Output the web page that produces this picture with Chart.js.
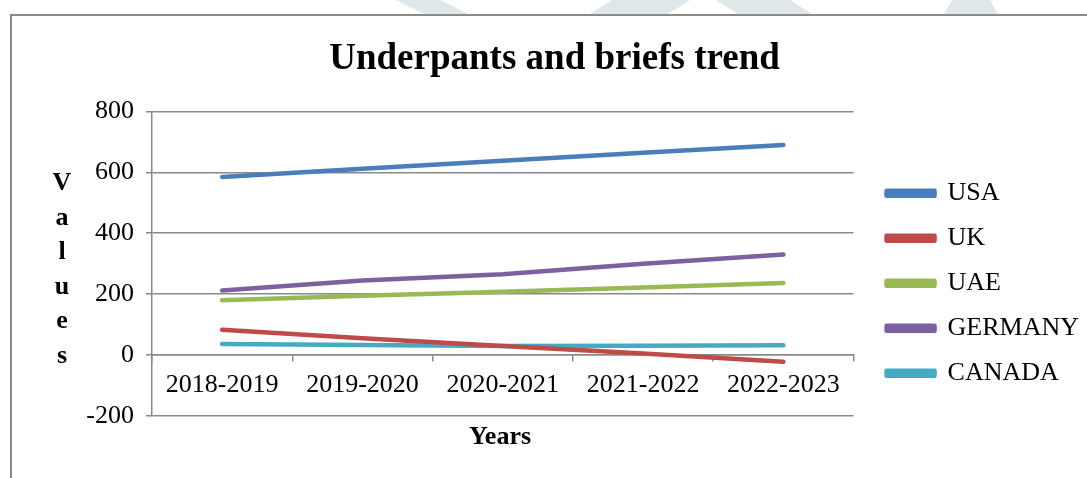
<!DOCTYPE html>
<html>
<head>
<meta charset="utf-8">
<script src="https://cdn.jsdelivr.net/npm/chart.js@4.4.1/dist/chart.umd.min.js"></script>
<style>
  body { margin: 0; background: #fff; }
  #wrap { position: relative; width: 1087px; height: 478px; overflow: hidden; }
  #bg { position: absolute; left: 0; top: 0; }
  #frame { position: absolute; left: 10px; top: 14px; width: 1200px; height: 600px; border: 2px solid #8a8a8a; }
  #myChart { position: absolute; left: 0; top: 0; }
  .axisTitle { position: absolute; font-family: "Liberation Serif", "Times New Roman", serif; font-weight: bold; font-size: 26px; color: #000; }
  #yTitle { left: 50px; top: 165px; width: 24px; text-align: center; line-height: 34.6px; }
  #xTitle { left: 420px; top: 421px; width: 160px; text-align: center; }
</style>
</head>
<body>
<div id="wrap">
  <svg id="bg" width="1087" height="16">
    <polygon points="396,0 440,0 468,14 424,14" fill="#dfe7ea" />
    <polygon points="612,0 690,0 668,14 590,14" fill="#dfe7ea" />
    <polygon points="716,0 790,0 812,14 738,14" fill="#dfe7ea" />
    <polygon points="952,0 990,0 998,14 944,14" fill="#dfe7ea" />
  </svg>
  <div id="frame"></div>
  <canvas id="myChart" width="1087" height="478"></canvas>
  <div id="yTitle" class="axisTitle">V<br>a<br>l<br>u<br>e<br>s</div>
  <div id="xTitle" class="axisTitle">Years</div>
</div>
<script>
// 데이터
const years = ["2018-2019", "2019-2020", "2020-2021", "2021-2022", "2022-2023"];
const usa = [585, 612, 638, 664, 690];
const uk = [83, 55, 30, 5, -22];
const uae = [180, 195, 208, 222, 237];
const germany = [212, 245, 265, 300, 330];
const canada = [36, 33, 30, 31, 32];
const yTicks = [-200, 0, 200, 400, 600, 800];

const serif = "'Liberation Serif', 'Times New Roman', serif";
const gridColor = "#898989";

function line(label, data, color) {
  return {
    label: label,
    data: data,
    borderColor: color,
    backgroundColor: color,
    borderWidth: 4.5,
    borderCapStyle: "round",
    borderJoinStyle: "round",
    pointRadius: 0,
    tension: 0,
    fill: false,
  };
}

// 범례를 조금 오른쪽으로 밀어줌
const legendShift = {
  id: "legendShift",
  afterLayout(chart) {
    chart.legend.left += 14;
    chart.legend.right += 14;
  },
};

const ctx = document.getElementById("myChart").getContext("2d");
const myChart = new Chart(ctx, {
  type: "line",
  data: {
    labels: years,
    datasets: [
      line("USA", usa, "#4a7ebb"),
      line("UK", uk, "#be4b48"),
      line("UAE", uae, "#98b954"),
      line("GERMANY", germany, "#7d60a0"),
      line("CANADA", canada, "#46aac5"),
    ],
  },
  plugins: [legendShift],
  options: {
    responsive: false,
    animation: false,
    layout: { padding: { left: 34, right: 12, top: 0, bottom: 62 } },
    plugins: {
      title: {
        display: true,
        text: "Underpants and briefs trend",
        color: "#000",
        font: { family: serif, size: 37, weight: "bold" },
        padding: { top: 37, bottom: 30 },
      },
      legend: {
        position: "right",
        fullSize: false,
        title: { display: true, text: "", font: { size: 11 }, padding: 13 },
        labels: {
          color: "#000",
          font: { family: serif, size: 26 },
          boxWidth: 48,
          boxHeight: 5,
          padding: 19,
        },
      },
      tooltip: { enabled: false },
    },
    scales: {
      x: {
        position: { y: 0 },
        offset: true,
        grid: {
          offset: true,
          drawOnChartArea: false,
          drawTicks: true,
          tickLength: 6,
          color: gridColor,
          lineWidth: 1.5,
        },
        border: { color: gridColor, width: 1.5 },
        ticks: { color: "#000", font: { family: serif, size: 26 }, padding: 8, maxRotation: 0 },
      },
      y: {
        min: -200,
        max: 800,
        afterFit: function (scale) {
          scale.width = 118;
        },
        afterBuildTicks: function (scale) {
          scale.ticks = yTicks.map((v) => ({ value: v }));
        },
        grid: { color: gridColor, lineWidth: 1.5, tickLength: 6 },
        border: { color: gridColor, width: 1.5 },
        ticks: { color: "#000", font: { family: serif, size: 26 }, padding: 12 },
      },
    },
  },
});
</script>
</body>
</html>
